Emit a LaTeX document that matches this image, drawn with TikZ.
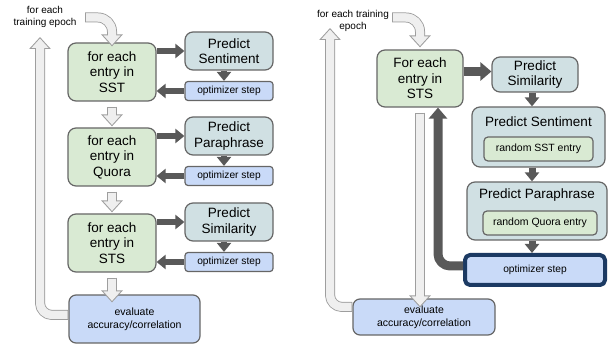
\documentclass[tikz,border=0pt]{standalone}
\usepackage{fontspec}
\setmainfont{Liberation Sans}
\usetikzlibrary{arrows.meta, calc}

\definecolor{loopgreen}{HTML}{D9EAD3}
\definecolor{predteal}{HTML}{D0E0E3}
\definecolor{stepblue}{HTML}{C9DAF8}
\definecolor{boxedge}{HTML}{666666}
\definecolor{flowgray}{HTML}{595959}
\definecolor{hollowfill}{HTML}{EFEFEF}
\definecolor{hollowedge}{HTML}{9E9E9E}
\definecolor{stepnavy}{HTML}{1C3A63}

\begin{document}
\begin{tikzpicture}[x=1pt, y=-1pt, line join=round,
	loopbox/.style={draw=boxedge, line width=1.2pt, fill=loopgreen, rounded corners=8pt,
		minimum width=88pt, minimum height=58pt, inner sep=0pt, align=center,
		font=\fontsize{13.5}{15.5}\selectfont},
	predbox/.style={loopbox, fill=predteal, minimum height=38pt},
	stepbox/.style={draw=boxedge, line width=1.2pt, fill=stepblue, rounded corners=3pt,
		minimum width=88pt, minimum height=19pt, inner sep=0pt,
		font=\fontsize{10.2}{12}\selectfont},
	evalbox/.style={stepbox, rounded corners=7pt, align=center,
		font=\fontsize{10.5}{13}\selectfont},
	entrybox/.style={draw=boxedge, line width=1.2pt, fill=loopgreen, rounded corners=4pt,
		minimum height=24pt, inner sep=0pt, font=\fontsize{10.5}{12}\selectfont},
	titletext/.style={inner sep=0pt, font=\fontsize{13.5}{15.5}\selectfont},
	epochtext/.style={inner sep=0pt, align=center, font=\fontsize{10}{12.5}\selectfont},
	flow/.style={draw=flowgray, line width=6pt, -{Triangle[width=14pt,length=9pt]}},
	flowbig/.style={flow, line width=9pt, -{Triangle[width=18pt,length=11pt]}, rounded corners=12pt},
	hollow/.style={draw=hollowfill, line width=8pt, -{Triangle[width=16.5pt,length=9.5pt]},
		shorten >=1.5pt, shorten <=1pt,
		preaction={draw=hollowedge, line width=10pt, -{Triangle[width=21pt,length=12pt]},
			shorten >=0pt, shorten <=0pt},
		postaction={draw=hollowfill, line width=8pt, -, shorten >=10.5pt, shorten <=1pt}}
	]
	\useasboundingbox (0,0) rectangle (611,344);
	
	%Coordinates
	\coordinate (inleft) at (85,17.5);
	\coordinate (backleft) at (40,37);
	\coordinate (inright) at (392,17.5);
	\coordinate (backright) at (330,28);
	\coordinate (spine) at (532,0);
	\coordinate (feedback) at (438,0);
	
	%Nodes: one task after the other
	\node[epochtext] (epochleft) at (45,17) {for each\\training epoch};
	\node[loopbox] (sst) at (112,72) {for each\\entry in\\SST};
	\node[predbox] (predsent) at (229,51) {Predict\\Sentiment};
	\node[stepbox] (stepsent) at (229,91) {optimizer step};
	\node[loopbox] (quora) at (112,157) {for each\\entry in\\Quora};
	\node[predbox] (predpara) at (229,136) {Predict\\Paraphrase};
	\node[stepbox] (steppara) at (229,176) {optimizer step};
	\node[loopbox] (sts) at (112,243) {for each\\entry in\\STS};
	\node[predbox] (predsim) at (229,222) {Predict\\Similarity};
	\node[stepbox] (stepsim) at (229,262) {optimizer step};
	\node[evalbox, minimum width=131pt, minimum height=48pt] (eval) at (134.5,319) {evaluate\\accuracy/correlation};
	
	%Nodes: all tasks in one step
	\node[epochtext] (epochright) at (353,21) {for each training\\epoch};
	\node[loopbox, minimum width=86pt, minimum height=57pt] (stsright) at (420,78.5) {For each\\entry in\\STS};
	\node[predbox, minimum width=86pt, minimum height=35pt] (simright) at (535,74.5) {Predict\\Similarity};
	\node[predbox, minimum width=133pt, minimum height=60pt] (sentright) at (538.5,137) {};
	\node[titletext] (senttitle) at (538.5,122) {Predict Sentiment};
	\node[entrybox, minimum width=109pt] (sstentry) at (538.5,149) {random SST entry};
	\node[predbox, minimum width=140pt, minimum height=58pt] (pararight) at (537,211) {};
	\node[titletext] (paratitle) at (537,195) {Predict Paraphrase};
	\node[entrybox, minimum width=114pt] (quoraentry) at (540,223) {random Quora entry};
	\node[stepbox, draw=stepnavy, line width=4pt, rounded corners=5pt, minimum width=140pt, minimum height=30pt] (stepright) at (535,270) {optimizer step};
	\node[evalbox, minimum width=142pt, minimum height=36pt] (evalright) at (424,317) {evaluate\\accuracy/correlation};
	
	%Hollow arrows
	\draw[hollow, rounded corners=14pt] (inleft) -| ([yshift=-4pt]sst.north);
	\draw[hollow] ([yshift=-5pt]sst.south) -- ([yshift=1pt]quora.north);
	\draw[hollow] ([yshift=-5pt]quora.south) -- ([yshift=1pt]sts.north);
	\draw[hollow] ([yshift=-5pt]sts.south) -- ([yshift=-8pt]eval.north -| sts.south);
	\draw[hollow, rounded corners=12pt] ([yshift=4pt]eval.west) -| (backleft);
	
	\draw[hollow, rounded corners=14pt] (inright) -| ([yshift=2pt]stsright.north);
	\draw[hollow] ([yshift=-5pt]stsright.south) -- ([yshift=-9pt]evalright.north -| stsright.south);
	\draw[hollow, rounded corners=12pt] ([yshift=10pt]evalright.west) -| (backright);
	
	%Flow arrows
	\draw[flow] (sst.east |- predsent.west) -- (predsent.west);
	\draw[flow] ([xshift=-5pt]predsent.south) -- ([xshift=-5pt]stepsent.north);
	\draw[flow] (stepsent.west) -- (stepsent.west -| sst.east);
	\draw[flow] (quora.east |- predpara.west) -- (predpara.west);
	\draw[flow] ([xshift=-5pt]predpara.south) -- ([xshift=-5pt]steppara.north);
	\draw[flow] (steppara.west) -- (steppara.west -| quora.east);
	\draw[flow] (sts.east |- predsim.west) -- (predsim.west);
	\draw[flow] ([xshift=-5pt]predsim.south) -- ([xshift=-5pt]stepsim.north);
	\draw[flow] (stepsim.west) -- (stepsim.west -| sts.east);
	
	\draw[flowbig] ([yshift=3pt]stsright.east |- simright.west) -- ([yshift=3pt]simright.west);
	\draw[flow, line width=7pt] (simright.south -| spine) -- (sentright.north -| spine);
	\draw[flow, line width=7pt] (sentright.south -| spine) -- (pararight.north -| spine);
	\draw[flow, line width=7pt] (pararight.south -| spine) -- (stepright.north -| spine);
	\draw[flowbig] ([yshift=4pt]stepright.west) -| (stsright.south -| feedback);
	
\end{tikzpicture}
\end{document}
